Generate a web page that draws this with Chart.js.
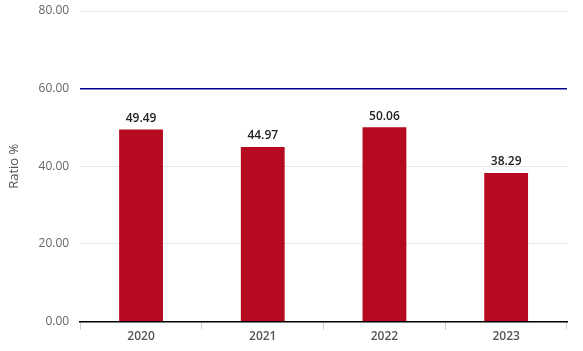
<!DOCTYPE html>
<html>
<head>
<meta charset="utf-8">
<script src="https://cdn.jsdelivr.net/npm/chart.js@4.4.1/dist/chart.umd.min.js"></script>
<style>
  html, body { margin: 0; padding: 0; background: #fff; }
  #wrap { width: 583px; height: 351px; position: relative; }
</style>
</head>
<body>
<div id="wrap"><canvas id="ratioChart"></canvas></div>
<script>
const years = ['2020', '2021', '2022', '2023'];
const ratios = [49.49, 44.97, 50.06, 38.29];
const targetLine = 60;
const yTicks = [0, 20, 40, 60, 80];

const valueLabels = {
    id: 'valueLabels',
    afterDatasetsDraw(chart) {
        const ctx = chart.ctx;
        ctx.save();
        ctx.font = '600 12px "Open Sans"';
        ctx.fillStyle = '#222';
        ctx.textAlign = 'center';
        ctx.textBaseline = 'bottom';
        chart.getDatasetMeta(0).data.forEach((bar, i) => {
            ctx.fillText(ratios[i].toFixed(2), bar.x, bar.y - 5);
        });
        ctx.restore();
    }
};

window.onload = function() {
    const ctx = document.getElementById('ratioChart').getContext('2d');
    new Chart(ctx, {
        type: 'bar',
        data: {
            labels: years,
            datasets: [{
                data: ratios,
                backgroundColor: '#b50a1f',
                categoryPercentage: 0.36,
                barPercentage: 1
            }]
        },
        options: {
            responsive: true,
            maintainAspectRatio: false,
            animation: false,
            layout: { padding: { top: 11, right: 16, bottom: 7, left: 6 } },
            plugins: { legend: { display: false }, tooltip: { enabled: false } },
            scales: {
                x: {
                    grid: { drawOnChartArea: false, drawTicks: true, tickLength: 8, color: '#ccc' },
                    border: { display: true, color: '#000', width: 1.5 },
                    ticks: { color: '#555', font: { family: 'Open Sans', size: 12, weight: '600' }, padding: 0 }
                },
                y: {
                    min: yTicks[0],
                    max: yTicks[yTicks.length - 1],
                    afterBuildTicks: axis => { axis.ticks = yTicks.map(v => ({ value: v })); },
                    afterFit: axis => { axis.paddingTop = 0; },
                    grid: {
                        drawTicks: false,
                        color: c => c.tick.value === targetLine ? '#00008b' : (c.tick.value === 0 ? 'rgba(0,0,0,0)' : '#e6e6e6'),
                        lineWidth: c => c.tick.value === targetLine ? 1.5 : 1
                    },
                    border: { display: false },
                    ticks: {
                        color: '#666',
                        padding: 11,
                        font: { family: 'Open Sans', size: 12 },
                        callback: v => v.toFixed(2)
                    },
                    title: {
                        display: true,
                        text: 'Ratio %',
                        color: '#555',
                        font: { family: 'Open Sans', size: 13 },
                        padding: { top: 0, bottom: 6 }
                    }
                }
            }
        },
        plugins: [valueLabels]
    });
};
</script>
</body>
</html>
